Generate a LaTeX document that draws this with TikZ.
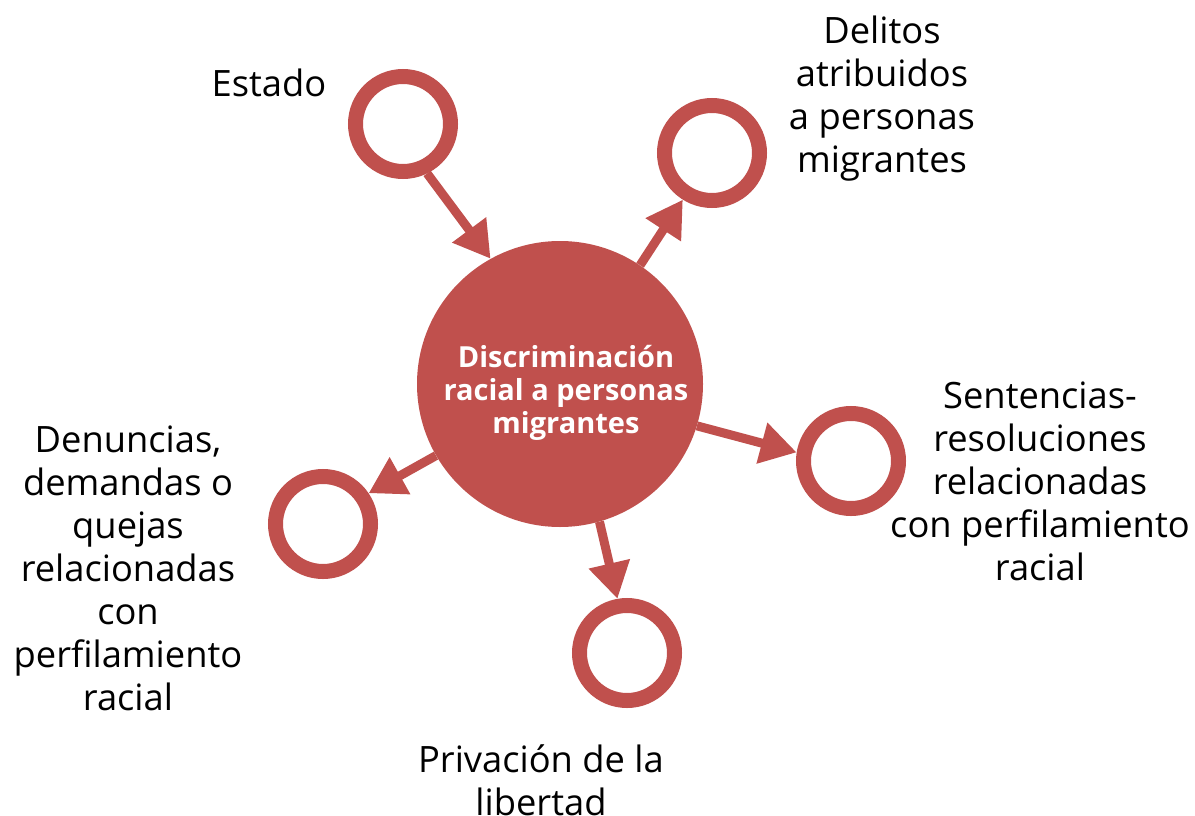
\documentclass[tikz,border=0pt]{standalone}
\usepackage{fontspec}
\setmainfont{Open Sans}
\usepackage{tikz}
\usetikzlibrary{arrows.meta}
\definecolor{ringred}{HTML}{C0504D}
\tikzset {
  x=1pt, y=-1pt,
  % the big filled topic circle
  hub/.style = {circle, fill=ringred, minimum size=286pt, inner sep=0pt},
  % white title on the topic circle
  hubtext/.style = {text=white, align=center, font=\bfseries\fontsize{29}{33}\selectfont},
  % empty rings round the topic
  ring/.style = {circle, draw=ringred, line width=15pt, minimum size=95pt, inner sep=0pt},
  % texts beside the rings
  outer/.style = {align=center, font=\fontsize{36.3}{43}\selectfont},
  % arrows between topic and rings
  link/.style = {ringred, line width=9pt, -{Triangle[length=36pt, width=40pt]}},
}

\begin{document}
\begin{tikzpicture}
  \useasboundingbox (0,0) rectangle (1195,816);

  \node[hub] (disc) at (560,384) {};
  \node[hubtext] (disctext) at (566,393) {Discriminación\\racial a personas\\migrantes};

  \node[ring] (estado) at (403,124) {};
  \node[ring] (delitos) at (712,153) {};
  \node[ring] (sentencias) at (851,461) {};
  \node[ring] (privacion) at (627,653) {};
  \node[ring] (denuncias) at (323,524) {};

  \node[outer] (estadolbl) at (269,83) {Estado};
  \node[outer] (delitoslbl) at (882,99) {Delitos\\atribuidos\\a personas\\migrantes};
  \node[outer] (sentenciaslbl) at (1040,481) {Sentencias-\\resoluciones\\relacionadas\\con perfilamiento\\racial};
  \node[outer] (privacionlbl) at (541,780) {Privación de la\\libertad};
  \node[outer] (denunciaslbl) at (128,568) {Denuncias,\\demandas o\\quejas\\relacionadas\\con\\perfilamiento\\racial};

  \draw [link] (estado.-64) -- (disc.119);
  \draw [link] (disc.56.5) -- (delitos.-122);
  \draw [link] (disc.-17.7) -- (sentencias.171.6);
  \draw [link] (disc.-74) -- (privacion.100);
  \draw [link] (disc.210) -- (denuncias.34);
\end{tikzpicture}
\end{document}
